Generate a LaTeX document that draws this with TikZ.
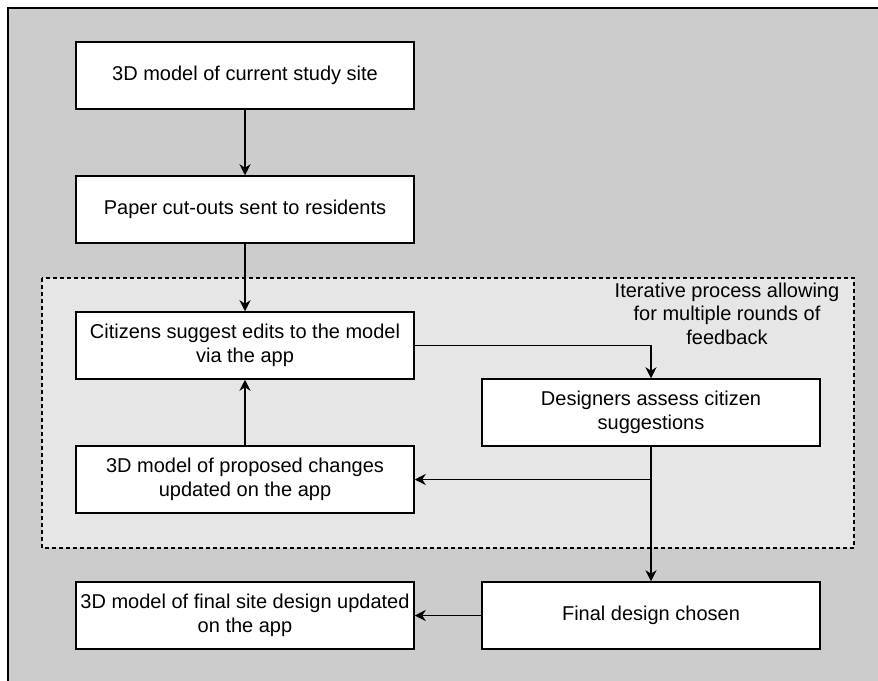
\documentclass[tikz,border=0pt]{standalone}
\usepackage{fontspec}
\setmainfont{Liberation Sans}
\usetikzlibrary{arrows.meta}
\definecolor{bggray}{HTML}{CCCCCC}
\definecolor{zonegray}{HTML}{E6E6E6}
\tikzset{
  stepbox/.style={draw=black, line width=1.5pt, fill=white, minimum width=338pt, minimum height=67pt,
    inner sep=0pt, align=center, font=\fontsize{20}{24}\selectfont},
  conn/.style={draw=black, line width=1.5pt},
  arr/.style={conn, -{Stealth[length=11pt, width=11pt, inset=3.5pt]}},
  zone/.style={draw=black, line width=1.2pt, dash pattern=on 4pt off 3pt, fill=zonegray},
}
\begin{document}
\begin{tikzpicture}[x=1pt,y=-1pt]
\useasboundingbox (0,0) rectangle (878,680);
\fill[bggray] (8,8) rectangle (890,690);
\draw[line width=2pt] (8,690) -- (8,8) -- (890,8);
\draw[zone] (42,278) rectangle (854,548);
\node[align=center, font=\fontsize{20}{23.5}\selectfont] (lbl) at (727,313.5) {Iterative process allowing\\for multiple rounds of\\feedback};
\node[stepbox] (b1) at (245,75.5) {3D model of current study site};
\node[stepbox] (b2) at (245,209.5) {Paper cut-outs sent to residents};
\node[stepbox] (b3) at (245,345.5) {Citizens suggest edits to the model\\via the app};
\node[stepbox] (b4) at (651,412.5) {Designers assess citizen\\suggestions};
\node[stepbox] (b5) at (245,479.5) {3D model of proposed changes\\updated on the app};
\node[stepbox] (b6) at (651,615.5) {Final design chosen};
\node[stepbox] (b7) at (245,615.5) {3D model of final site design updated\\on the app};
\draw[arr] (b1) -- (b2);
\draw[arr] (b2) -- (b3);
\draw[arr] (b3.east) -| (b4.north);
\draw[arr] (b4.south) |- (b5.east);
\draw[arr] (b4.south) -- (b6.north);
\draw[arr] (b5) -- (b3);
\draw[arr] (b6) -- (b7);
\end{tikzpicture}
\end{document}
